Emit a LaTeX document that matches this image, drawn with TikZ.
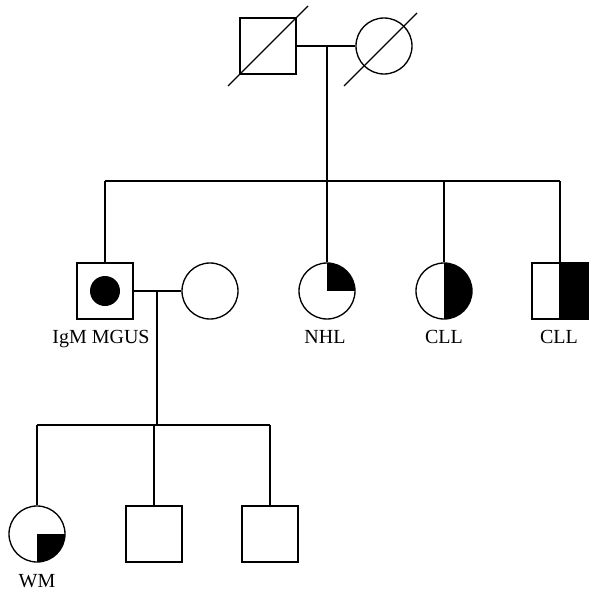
\documentclass[tikz,border=0pt]{standalone}
\usepackage{fontspec}
\setmainfont{Liberation Serif}
\begin{document}
\begin{tikzpicture}[x=0.75pt,y=-0.75pt,
  line width=1pt,
  male/.style={draw,rectangle,minimum size=42pt,inner sep=0pt},
  female/.style={draw,circle,minimum size=42pt,inner sep=0pt},
  lbl/.style={anchor=base,inner sep=0pt,font=\fontsize{15pt}{17pt}\selectfont}]
\useasboundingbox (0,0) rectangle (600,600);
% generation I
\node[male] (fa) at (268,46) {};
\node[female] (mo) at (384,46) {};
\draw (228,86) -- (308,6);
\draw (344,86) -- (417,13);
% generation II
\node[male] (ig) at (105,291) {};
\node[circle,fill=black,minimum size=22.5pt,inner sep=0pt] (igdot) at (ig.center) {};
\node[female] (wi) at (210,291) {};
\node[female] (nhl) at (327,291) {};
\node[female] (cl1) at (444,291) {};
\node[male] (cl2) at (560,291) {};
% generation III
\node[female] (wm) at (37,534) {};
\node[male] (s2) at (154,534) {};
\node[male] (s3) at (270,534) {};
% partial fills
\begin{scope}
  \clip (nhl.center) circle[radius=21pt];
  \fill (nhl.center) rectangle ([xshift=22pt,yshift=22pt]nhl.center);
\end{scope}
\begin{scope}
  \clip (cl1.center) circle[radius=21pt];
  \fill ([yshift=22pt]cl1.center) rectangle ([xshift=22pt,yshift=-22pt]cl1.center);
\end{scope}
\fill (cl2.north) rectangle (cl2.south east);
\draw (cl2.north) -- (cl2.south);
\begin{scope}
  \clip (wm.center) circle[radius=21pt];
  \fill (wm.center) rectangle ([xshift=22pt,yshift=-22pt]wm.center);
\end{scope}
% connectors
\coordinate (pj) at (327,46);
\coordinate (sj) at (327,181);
\coordinate (sl) at (105,181);
\coordinate (sr) at (560,181);
\coordinate (cj1) at (157,291);
\coordinate (cj2) at (157,425);
\coordinate (cl) at (37,425);
\coordinate (cr) at (270,425);
\draw (fa.east) -- (mo.west);
\draw (pj) -- (sj);
\draw (sl) -- (sr);
\draw (sl) -- (ig.north);
\draw (sj) -- (nhl.north);
\draw (cl1.north |- sl) -- (cl1.north);
\draw (sr) -- (cl2.north);
\draw (ig.east) -- (wi.west);
\draw (cj1) -- (cj2);
\draw (cl) -- (cr);
\draw (cl) -- (wm.north);
\draw (s2.north |- cl) -- (s2.north);
\draw (s3.north |- cl) -- (s3.north);
% labels
\node[lbl] (l1) at (101,343) {IgM MGUS};
\node[lbl] (l2) at (325,343) {NHL};
\node[lbl] (l3) at (444,343) {CLL};
\node[lbl] (l4) at (559,343) {CLL};
\node[lbl] (l5) at (37,587) {WM};
\end{tikzpicture}
\end{document}
